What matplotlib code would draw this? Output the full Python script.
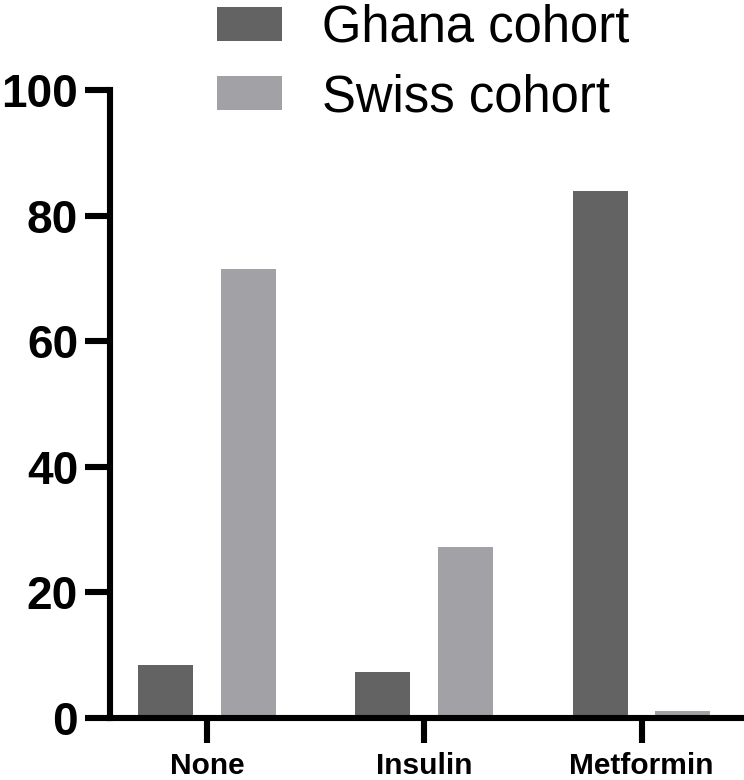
import matplotlib
matplotlib.use("Agg")
import matplotlib.pyplot as plt
import numpy as np

categories = ["None", "Insulin", "Metformin"]
ghana = [8.4, 7.25, 83.9]
swiss = [71.5, 27.2, 1.0]
series_names = ["Ghana cohort", "Swiss cohort"]
yticks = [0, 20, 40, 60, 80, 100]

plt.rcParams['font.family'] = ['Liberation Sans', 'DejaVu Sans']

fig = plt.figure(figsize=(7.44, 7.80), dpi=100)
ax = fig.add_axes([0.1478, 0.0801, 0.849, 0.8045])

x = np.arange(len(categories))
w = 0.253
off = 0.19
b1 = ax.bar(x - off, ghana, w, color="#636363", label=series_names[0])
b2 = ax.bar(x + off, swiss, w, color="#a2a2a6", label=series_names[1])

ax.set_xlim(-0.446, 2.46)
ax.set_ylim(0, 100)
ax.set_xticks(x)
ax.set_xticklabels(categories, fontsize=21.5, fontweight='bold')
ax.set_yticks(yticks)
ax.set_yticklabels([str(v) for v in yticks], fontsize=33, fontweight='bold')

for s in ['top', 'right']:
    ax.spines[s].set_visible(False)
for s in ['left', 'bottom']:
    ax.spines[s].set_linewidth(4.4)
    ax.spines[s].set_capstyle('projecting')
ax.tick_params(axis='both', direction='out', length=18, width=4.4, color='black')
ax.tick_params(axis='y', pad=5)
ax.tick_params(axis='x', pad=7)

fig.legend(handles=[b1, b2], labels=series_names, loc='upper left',
           bbox_to_anchor=(0.2917, 0.995), frameon=False, fontsize=36.5,
           handlelength=1.29, handleheight=0.65, handletextpad=0.78,
           labelspacing=0.4, borderpad=0, borderaxespad=0)

fig.savefig("out.png", dpi=100)
